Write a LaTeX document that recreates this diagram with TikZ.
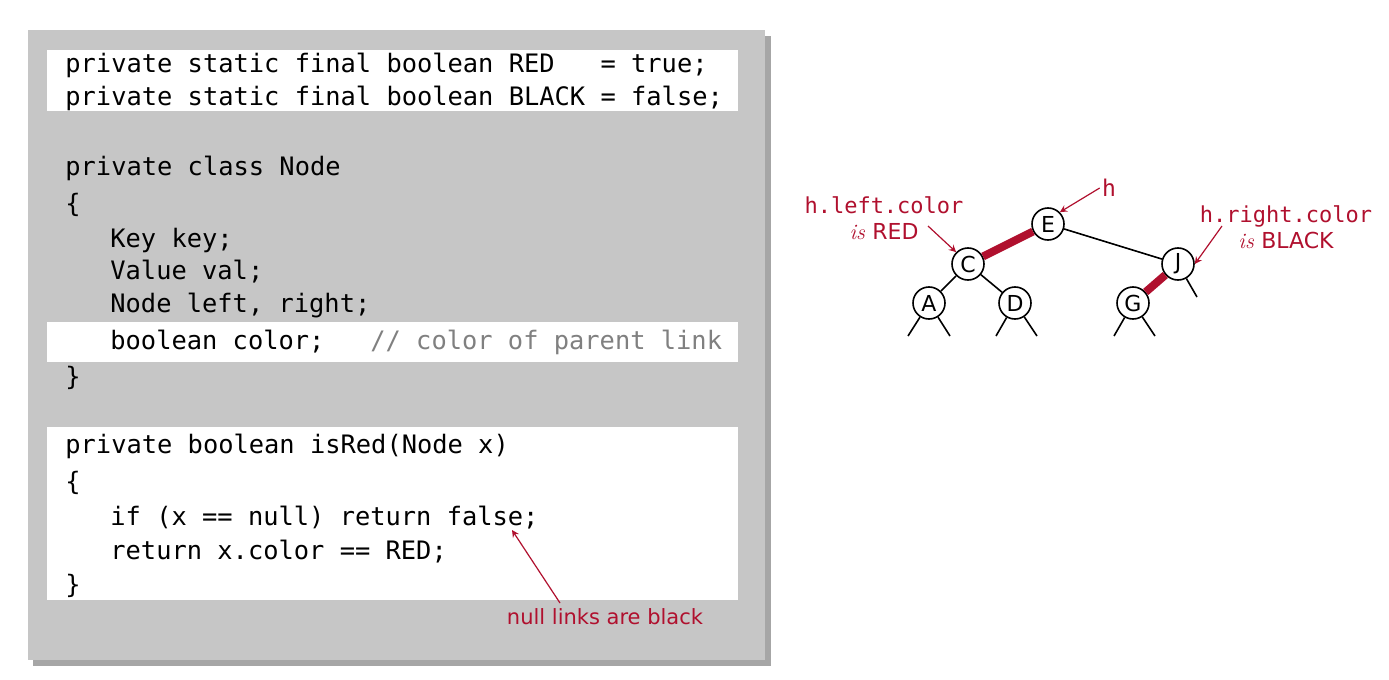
\documentclass[tikz,border=0pt]{standalone}
\usepackage{fontspec}
\setmonofont{DejaVu Sans Mono}
\setsansfont{DejaVu Sans}
\usetikzlibrary{positioning,shadows}
\definecolor{linkred}{HTML}{B0102E}
\tikzset{
  code/.style={anchor=west,inner sep=0pt,font=\ttfamily\fontsize{12.7}{14}\selectfont},
  strip/.style={fill=white,draw=none},
  key/.style={circle,draw,thick,fill=white,minimum size=16pt,inner sep=0pt,font=\sffamily\fontsize{11}{12}\selectfont},
  link/.style={thick},
  redlink/.style={line width=4pt,linkred},
  note/.style={text=linkred,align=center,inner sep=1pt,font=\fontsize{11}{13}\selectfont},
  pointer/.style={->,>=stealth,linkred,semithick}
}
\begin{document}
\begin{tikzpicture}[x=0.5pt,y=-0.5pt]
\useasboundingbox (0,0) rectangle (1389,680);
% code panel
\fill[gray!70] (33,36) rectangle (771,666);
\fill[gray!45] (28,30) rectangle (765,660);
\fill[strip] (47,50) rectangle (738,111);
\fill[strip] (47,322) rectangle (738,362);
\fill[strip] (47,427) rectangle (738,600);
\node[code] (l1) at (65,65) {private static final boolean RED \ \ = true;};
\node[code] (l2) at (65,98) {private static final boolean BLACK = false;};
\node[code] (l3) at (65,168) {private class Node};
\node[code] (l4) at (65,205) {\{};
\node[code] (l5) at (110,240) {Key key;};
\node[code] (l6) at (110,272) {Value val;};
\node[code] (l7) at (110,306) {Node left, right;};
\node[code] (l8) at (110,342) {boolean color; \ \ \textcolor{gray}{// color of parent link}};
\node[code] (l9) at (65,378) {\}};
\node[code] (l10) at (65,446) {private boolean isRed(Node x)};
\node[code] (l11) at (65,483) {\{};
\node[code] (l12) at (110,518) {if (x == null) return false;};
\node[code] (l13) at (110,552) {return x.color == RED;};
\node[code] (l14) at (65,586) {\}};
\node[note,font=\sffamily\fontsize{10.5}{12}\selectfont] (nulls) at (605,617) {null links are black};
\coordinate (p0) at (560,603);
\draw[pointer] (p0) -- (512,530);

% tree
\node[key] (E) at (1048,224) {E};
\node[key] (C) at (968,264) {C};
\node[key] (J) at (1178,264) {J};
\node[key] (A) at (929,303) {A};
\node[key] (D) at (1015,303) {D};
\node[key] (G) at (1133,303) {G};
\draw[redlink] (E) -- (C);
\draw[link] (E) -- (J);
\draw[redlink] (J) -- (G);
\draw[link] (C) -- (A);
\draw[link] (C) -- (D);
\foreach \k/\l/\r in {A/908/950,D/996/1037,G/1114/1155}{
  \coordinate (\k l) at (\l,336);
  \coordinate (\k r) at (\r,336);
  \draw[link] (\k) -- (\k l);
  \draw[link] (\k) -- (\k r);
}
\coordinate (Jr) at (1197,297);
\draw[link] (J) -- (Jr);

% labels
\node[note,font=\ttfamily\fontsize{11.5}{13}\selectfont] (h) at (1109,188) {h};
\draw[pointer] (h.west) -- (E.north east);
\node[note] (hleft) at (884,218) {\ttfamily h.left.color\\\textit{\rmfamily is} \sffamily RED};
\coordinate (hl0) at (928,226);
\draw[pointer] (hl0) -- (C.north west);
\node[note] (hright) at (1286,227) {\ttfamily h.right.color\\\textit{\rmfamily is} \sffamily BLACK};
\coordinate (hr0) at (1222,226);
\draw[pointer] (hr0) -- (J.east);
\end{tikzpicture}
\end{document}
